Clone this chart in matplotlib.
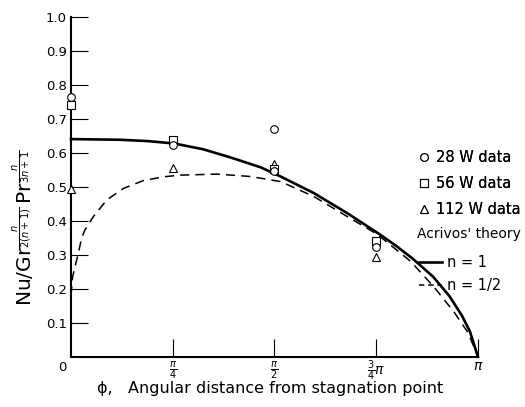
import matplotlib
matplotlib.use("Agg")
import matplotlib.pyplot as plt
import numpy as np
from matplotlib.lines import Line2D

# angular positions are in units of pi
phi_data = [0.0, 0.25, 0.5, 0.75]
w28 = [0.764, 0.623, 0.669, 0.324]
w28_extra_phi = [0.5]
w28_extra = [0.546]
w56 = [0.740, 0.638, 0.552, 0.340]
w112 = [0.492, 0.555, 0.566, 0.294]

# Acrivos' theory
phi_n1 = [0.0, 0.121, 0.19, 0.254, 0.325, 0.392, 0.466, 0.515, 0.597, 0.679,
          0.761, 0.80, 0.84, 0.89, 0.93, 0.96, 0.98, 1.0]
nu_n1 = [0.640, 0.638, 0.634, 0.627, 0.610, 0.586, 0.557, 0.530, 0.481, 0.422,
         0.358, 0.325, 0.288, 0.235, 0.178, 0.122, 0.075, 0.0]
phi_nhalf = [0.0, 0.004, 0.010, 0.018, 0.026, 0.034, 0.055, 0.088, 0.129,
             0.178, 0.227, 0.268, 0.359, 0.441, 0.515, 0.597, 0.679, 0.744,
             0.761, 0.835, 0.892, 0.942, 0.975, 1.0]
nu_nhalf = [0.18, 0.235, 0.265, 0.304, 0.348, 0.372, 0.412, 0.461, 0.495,
            0.518, 0.529, 0.534, 0.537, 0.530, 0.515, 0.471, 0.412, 0.366,
            0.352, 0.280, 0.205, 0.130, 0.072, 0.0]

xtick_pos = [0.25, 0.5, 0.75, 1.0]
xtick_lab = [r'$\frac{\pi}{4}$', r'$\frac{\pi}{2}$', r'$\frac{3}{4}\pi$', r'$\pi$']
ytick_pos = [0.1, 0.2, 0.3, 0.4, 0.5, 0.6, 0.7, 0.8, 0.9, 1.0]


fig = plt.figure(figsize=(5.25, 4.07), dpi=100)
ax = fig.add_axes([0.1352, 0.1236, 0.7752, 0.8354])

pi = np.pi
ax.plot(np.array(phi_n1)*pi, nu_n1, color="black", lw=1.9, clip_on=False)
ax.plot(np.array(phi_nhalf)*pi, nu_nhalf, color="black", lw=1.1,
        dashes=(6, 4), clip_on=False)

mk = dict(linestyle="none", markerfacecolor="white", markeredgecolor="black",
          markeredgewidth=0.8)
ax.plot(np.array(phi_data)*pi, w112, marker="^", markersize=6, clip_on=False, zorder=5, **mk)
ax.plot(np.array(phi_data)*pi, w56, marker="s", markersize=6, clip_on=False, zorder=5, **mk)
ax.plot(np.array(phi_data)*pi, w28, marker="o", markersize=5.5, clip_on=False, zorder=5, **mk)
ax.plot(np.array(w28_extra_phi)*pi, w28_extra, marker="o", markersize=5.5,
        clip_on=False, zorder=5, **mk)

ax.set_xlim(0, pi)
ax.set_ylim(0, 1.0)

ax.spines["top"].set_visible(False)
ax.spines["right"].set_visible(False)
ax.spines["left"].set_linewidth(1.5)
ax.spines["bottom"].set_linewidth(1.5)

ax.set_xticks(np.array(xtick_pos)*pi)
ax.set_xticklabels(xtick_lab, fontsize=10)
ax.set_yticks(ytick_pos)
ax.set_yticklabels(["%.1f" % v for v in ytick_pos], fontsize=9.5)
ax.tick_params(axis="y", direction="in", length=12, width=0.8, pad=3)
ax.tick_params(axis="x", direction="in", length=13, width=0.8, pad=1.5)

ax.text(-0.012, -0.012, "0", transform=ax.transAxes, ha="right", va="top",
        fontsize=9.5)

fig.text(0.514, 0.046, "ϕ,   Angular distance from stagnation point",
         fontsize=11.5, ha="center", va="center")
fig.text(0.045, 0.44,
         r'$\mathrm{Nu/Gr}^{\frac{n}{2(n+1)}}\,\mathrm{Pr}^{\frac{n}{3n+1}}$',
         rotation=90, ha="center", va="center", fontsize=14.5)

# legend: data points
h_pts = [Line2D([], [], marker="o", markersize=5.5, **mk),
         Line2D([], [], marker="s", markersize=6, **mk),
         Line2D([], [], marker="^", markersize=6, **mk)]
leg1 = fig.legend(h_pts, ["28 W data", "56 W data", "112 W data"],
                  loc="upper left", bbox_to_anchor=(0.785, 0.645), frameon=False,
                  fontsize=10.5, handlelength=0.8, handletextpad=0.45,
                  labelspacing=0.75, borderaxespad=0)
fig.add_artist(leg1)
fig.text(0.794, 0.425, "Acrivos' theory", fontsize=10, ha="left", va="center")
h_lines = [Line2D([], [], color="black", lw=1.9),
           Line2D([], [], color="black", lw=1.1, dashes=(3.5, 2.5))]
fig.legend(h_lines, ["n = 1", "n = 1/2"], loc="upper left",
           bbox_to_anchor=(0.787, 0.388), frameon=False, fontsize=10.5,
           handlelength=1.6, handletextpad=0.3, labelspacing=0.55,
           borderaxespad=0)

fig.savefig("out.png", dpi=100)
